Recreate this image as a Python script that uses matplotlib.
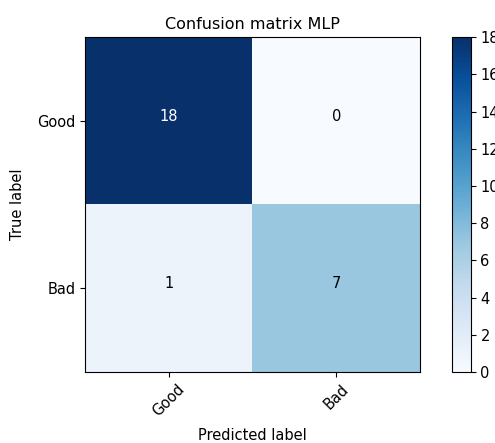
import numpy as np
import matplotlib.pyplot as plt

classes = ['Good', 'Bad']
cm = np.array([[18, 0],
               [1, 7]])
title = 'Confusion matrix MLP'

fig = plt.figure(figsize=(4.95, 4.43), dpi=100)
ax = fig.add_axes([0.172, 0.160, 0.677, 0.756])
cax = fig.add_axes([0.913, 0.160, 0.038, 0.756])

im = ax.imshow(cm, interpolation='nearest', cmap=plt.cm.Blues)
ax.set_title(title, fontsize=11.5)
cb = fig.colorbar(im, cax=cax, ticks=np.arange(0, 19, 2))
cb.ax.tick_params(labelsize=10.5)

tick_marks = np.arange(len(classes))
ax.set_xticks(tick_marks)
ax.set_xticklabels(classes, rotation=45, fontsize=10.5)
ax.set_yticks(tick_marks)
ax.set_yticklabels(classes, fontsize=10.5)

thresh = cm.max() / 2.
for i in range(cm.shape[0]):
    for j in range(cm.shape[1]):
        ax.text(j, i, format(cm[i, j], 'd'),
                horizontalalignment="center",
                color="white" if cm[i, j] > thresh else "black", fontsize=10.5)

ax.set_ylabel('True label', fontsize=10.5, labelpad=9)
ax.set_xlabel('Predicted label', fontsize=10.5, labelpad=6)

fig.savefig('out.png', dpi=100)
